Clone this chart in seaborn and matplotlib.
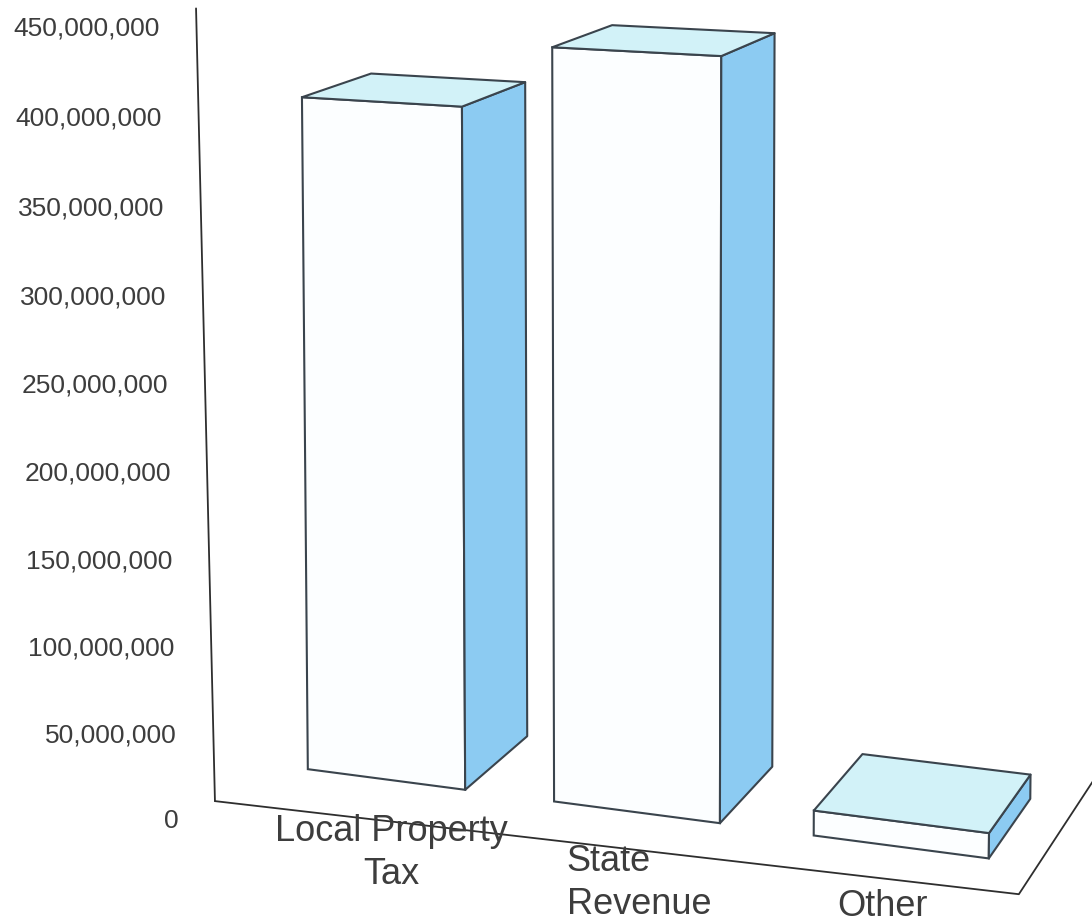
import numpy as np
import matplotlib
matplotlib.use("Agg")
import matplotlib.pyplot as plt
import matplotlib.transforms as mtransforms
from matplotlib.patches import Polygon
import seaborn as sns

# ---- data -------------------------------------------------------------
CATEGORIES = ["Local Property Tax", "State Revenue", "Other"]
LABELS = ["Local Property\nTax", "State\nRevenue", "Other"]
LABEL_ALIGN = ["center", "left", "center"]
AMOUNTS = [391_000_000, 427_000_000, 14_000_000]
TICKS = [0, 50_000_000, 100_000_000, 150_000_000, 200_000_000,
         250_000_000, 300_000_000, 350_000_000, 400_000_000, 450_000_000]

# ---- look --------------------------------------------------------------
W_PX, H_PX, DPI = 1092, 923, 100
FRONT = "#fcfeff"
SIDE = "#8ccbf2"
TOP = "#d2f2f8"
EDGE = "#3a444d"
TEXT = "#3d3d3d"
AXIS = "#2e2e2e"

# ---- perspective camera (world units: x in category slots, y in $M) ----
FOCAL = 3460.0
CX, CY = 650.0, -152.0
YAW = np.arctan(-0.36)
PITCH = np.arcsin(0.0859)
SLOT = 152.3          # world width of one category slot
X_OFF = -869.8        # left edge of the floor relative to the eye
EYE_H = 700.0         # eye height above the floor
Z_OFF = 1708.0        # distance from eye to the floor reference line
BAR_SET = 51.0        # bars sit this far behind the reference line
BAR_DEPTH = 94.5
FLOOR_DEPTH = 200.0
BAR_WIDTH = 0.645
# floor front edge (depth at left / right end) and lean of the value axis
FLOOR_Z_LEFT, FLOOR_Z_RIGHT = -13.0, 8.0
AXIS_Z_TOP = -25.0
# anchor of each category label on the floor, in front of the edge
LABEL_X = [0.32, 1.24, 2.09]
LABEL_Z = [-50.0, -45.0, -32.0]


def project(x, y, z):
    """Map world (category x, dollar y, depth z) to figure pixels."""
    x = np.asarray(x, float)
    y = np.asarray(y, float)
    z = np.asarray(z, float)
    xr = (x + 0.5) * SLOT + X_OFF
    yr = y / 1e6 - EYE_H
    zr = Z_OFF + z
    ca, sa = np.cos(YAW), np.sin(YAW)
    cp, sp = np.cos(PITCH), np.sin(PITCH)
    x1 = xr * ca - zr * sa
    z1 = xr * sa + zr * ca
    yc = yr * cp + z1 * sp
    zc = z1 * cp - yr * sp
    u = CX + FOCAL * x1 / zc
    v = CY - FOCAL * yc / zc
    return u, H_PX - v


class PlaneProjection(mtransforms.Transform):
    """Data (x, y) on a plane of constant depth -> figure pixels."""
    input_dims = 2
    output_dims = 2
    is_separable = False
    has_inverse = False

    def __init__(self, plane_z):
        super().__init__()
        self.plane_z = plane_z

    def transform_non_affine(self, values):
        values = np.asarray(values, float)
        u, v = project(values[:, 0], values[:, 1],
                       np.full(len(values), self.plane_z))
        return np.column_stack([u, v])


sns.set_theme(style="white")
plt.rcParams["font.family"] = ["Liberation Sans", "DejaVu Sans"]

fig = plt.figure(figsize=(W_PX / DPI, H_PX / DPI), dpi=DPI)
ax = fig.add_axes([0, 0, 1, 1])

# front faces of the columns
sns.barplot(x=CATEGORIES, y=AMOUNTS, color=FRONT, saturation=1,
            width=BAR_WIDTH, edgecolor=EDGE, linewidth=1.5,
            errorbar=None, ax=ax)

front_tf = PlaneProjection(BAR_SET)
pix = mtransforms.IdentityTransform()
z_front, z_back = BAR_SET, BAR_SET + BAR_DEPTH

for bar in list(ax.patches):
    bar.set_transform(front_tf)
    bar.set_clip_on(False)
    x0 = bar.get_x()
    x1 = x0 + bar.get_width()
    h = bar.get_height()
    # right side face
    su, sv = project([x1, x1, x1, x1], [0, h, h, 0],
                     [z_front, z_front, z_back, z_back])
    ax.add_patch(Polygon(np.column_stack([su, sv]), closed=True,
                         facecolor=SIDE, edgecolor=EDGE, linewidth=1.5,
                         joinstyle="round", transform=pix, clip_on=False))
    # top face
    tu, tv = project([x0, x1, x1, x0], [h, h, h, h],
                     [z_front, z_front, z_back, z_back])
    ax.add_patch(Polygon(np.column_stack([tu, tv]), closed=True,
                         facecolor=TOP, edgecolor=EDGE, linewidth=1.5,
                         joinstyle="round", transform=pix, clip_on=False))

# value axis and floor outline
x_lo, x_hi = -0.5, len(CATEGORIES) - 0.5
au, av = project([x_lo, x_lo], [0, TICKS[-1]], [FLOOR_Z_LEFT, AXIS_Z_TOP])
ax.plot(au, av, color=AXIS, lw=1.3, transform=pix, clip_on=False)
fu, fv = project([x_lo, x_hi, x_hi], [0, 0, 0],
                 [FLOOR_Z_LEFT, FLOOR_Z_RIGHT, FLOOR_Z_RIGHT + FLOOR_DEPTH])
ax.plot(fu, fv, color=AXIS, lw=1.3, transform=pix, clip_on=False)

# value tick labels, following the axis line
for t in TICKS:
    zt = FLOOR_Z_LEFT + (AXIS_Z_TOP - FLOOR_Z_LEFT) * t / TICKS[-1]
    u, v = project(x_lo, t, zt)
    ax.annotate(f"{t:,}", xy=(float(u), float(v)), xycoords=pix,
                xytext=(-36, -20), textcoords="offset pixels",
                ha="right", va="center", fontsize=19, color=TEXT)

# category labels on the floor, in front of the edge
for lab, al, lx, lz in zip(LABELS, LABEL_ALIGN, LABEL_X, LABEL_Z):
    u, v = project(lx, 0, lz)
    ax.annotate(lab, xy=(float(u), float(v)), xycoords=pix,
                ha="center", va="center", multialignment=al,
                fontsize=26, color=TEXT, linespacing=1.3)

ax.set_axis_off()
fig.savefig("out.png", dpi=DPI, facecolor="white")
